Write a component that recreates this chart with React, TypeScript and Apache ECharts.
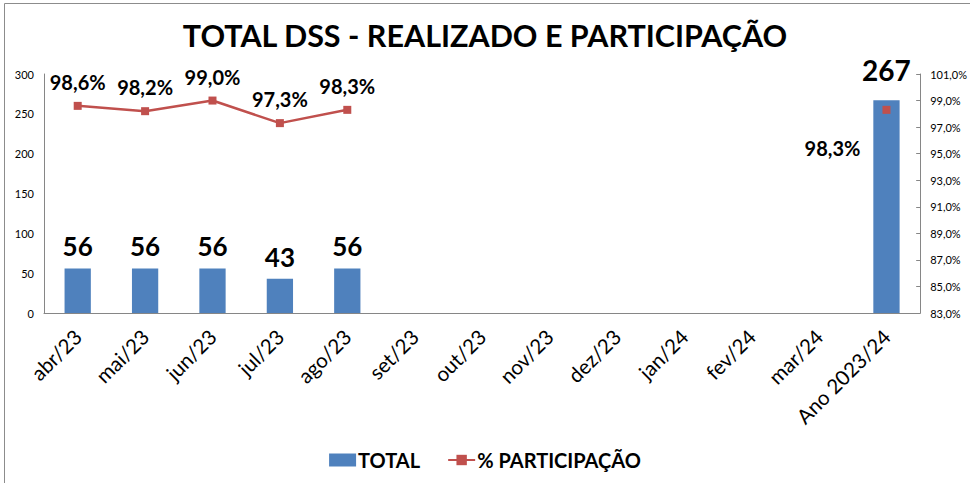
import React, { useEffect, useRef } from "react";
import * as echarts from "echarts";

const categories = ["abr/23", "mai/23", "jun/23", "jul/23", "ago/23", "set/23", "out/23", "nov/23", "dez/23", "jan/24", "fev/24", "mar/24", "Ano 2023/24"];
const totalValues: (number | null)[] = [56, 56, 56, 43, 56, null, null, null, null, null, null, null, 267];
const participacaoValues: (number | null)[] = [98.6, 98.2, 99.0, 97.3, 98.3, null, null, null, null, null, null, null, 98.3];
const leftTicks = { min: 0, max: 300, interval: 50 };
const rightTicks = { min: 83, max: 101, interval: 2 };

const FONT = "Lato, 'Open Sans', sans-serif";
const fmtPct = (v: number) => v.toFixed(1).replace(".", ",") + "%";

export default function App() {
  const ref = useRef<HTMLDivElement>(null);
  useEffect(() => {
    document.body.style.margin = "0";
    const chart = echarts.init(ref.current!, null, { renderer: "svg" });
    const last = categories.length - 1;
    chart.setOption({
      animation: false,
      backgroundColor: "#fff",
      textStyle: { fontFamily: FONT },
      title: {
        text: "TOTAL DSS - REALIZADO E PARTICIPAÇÃO",
        left: "center",
        top: 14,
        textStyle: { fontFamily: FONT, fontSize: 30.5, fontWeight: "bold", color: "#000" },
      },
      graphic: [
        { type: "rect", shape: { x: 4.5, y: 3.5, width: 1000, height: 1000 }, style: { fill: "none", stroke: "#8c8c8c", lineWidth: 1 }, silent: true },
      ],
      legend: {
        bottom: 8,
        left: "center",
        itemGap: 27,
        itemWidth: 27,
        itemHeight: 13,
        textStyle: { fontFamily: FONT, fontSize: 20, fontWeight: "bold", color: "#000", padding: [0, 0, 0, -3] },
        data: [
          { name: "TOTAL", icon: "rect" },
          { name: "% PARTICIPAÇÃO" },
        ],
      },
      grid: { left: 44, right: 48, top: 74, bottom: 170, containLabel: false },
      xAxis: {
        type: "category",
        data: categories,
        axisLine: { lineStyle: { color: "#868686" } },
        axisTick: { show: false },
        axisLabel: { rotate: 45, fontSize: 20.5, color: "#000", margin: 20, interval: 0, fontFamily: FONT },
      },
      yAxis: [
        {
          type: "value",
          ...leftTicks,
          splitLine: { show: false },
          axisLine: { show: true, lineStyle: { color: "#868686" } },
          axisTick: { show: false },
          axisLabel: { fontSize: 11, color: "#000", margin: 10, fontFamily: FONT },
        },
        {
          type: "value",
          ...rightTicks,
          position: "right",
          splitLine: { show: false },
          axisLine: { show: true, lineStyle: { color: "#868686" } },
          axisTick: { show: true, inside: true, length: 4, lineStyle: { color: "#868686" } },
          axisLabel: { fontSize: 11, color: "#000", margin: 10, fontFamily: FONT, formatter: (v: number) => fmtPct(v) },
        },
      ],
      series: [
        {
          name: "TOTAL",
          type: "bar",
          yAxisIndex: 0,
          barWidth: "39%",
          itemStyle: { color: "#4F81BD" },
          data: totalValues.map((v, i) => ({
            value: v,
            label: i === last ? { fontSize: 28, distance: 16 } : undefined,
          })),
          label: {
            show: true,
            position: "top",
            distance: 9,
            fontSize: 26,
            fontWeight: "bold",
            color: "#000",
            fontFamily: FONT,
          },
        },
        {
          name: "% PARTICIPAÇÃO",
          type: "line",
          yAxisIndex: 1,
          symbol: "rect",
          symbolSize: 8,
          connectNulls: false,
          lineStyle: { color: "#C0504D", width: 2.5 },
          itemStyle: { color: "#C0504D" },
          data: participacaoValues.map((v, i) => ({
            value: v,
            label: i === last ? { position: "left", distance: 22, offset: [0, 38] } : undefined,
          })),
          label: {
            show: true,
            position: "top",
            distance: 10,
            fontSize: 20,
            fontWeight: "bold",
            color: "#000",
            fontFamily: FONT,
            formatter: (p: any) => fmtPct(p.value),
          },
          z: 5,
        },
      ],
    });
    return () => chart.dispose();
  }, []);
  return <div ref={ref} style={{ width: 970, height: 483 }} />;
}
